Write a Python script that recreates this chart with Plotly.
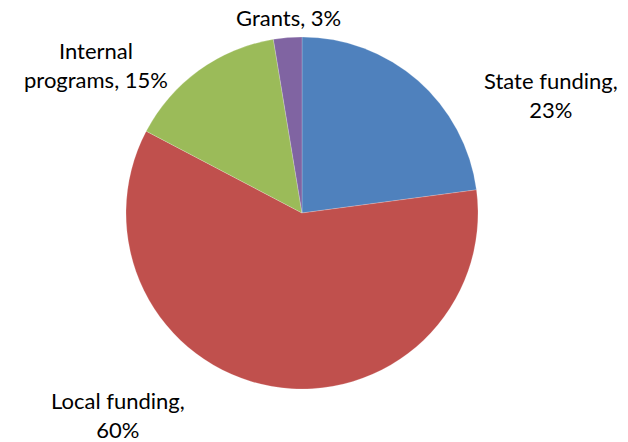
import plotly.graph_objects as go

categories = ["State funding", "Local funding", "Internal programs", "Grants"]
values = [22.9, 59.8, 14.7, 2.6]
label_text = ["State funding,<br>23%", "Local funding,<br>60%", "Internal<br>programs, 15%", "Grants, 3%"]
colors = ["#4F81BD", "#C0504D", "#9BBB59", "#8064A2"]

W, H = 628, 442
cx, cy, r = 302, 213, 176

fig = go.Figure(go.Pie(
    labels=categories, values=values, sort=False, direction="clockwise", rotation=0,
    marker=dict(colors=colors, line=dict(color="rgba(255,255,255,0.4)", width=0.5)),
    textinfo="none", hoverinfo="label+percent", showlegend=False,
    domain=dict(x=[(cx - r) / W, (cx + r) / W], y=[(H - cy - r) / H, (H - cy + r) / H]),
))

# label anchor positions (pixels)
label_pos = [(551, 95), (118, 415), (96, 65), (288, 18)]
for txt, (x, y) in zip(label_text, label_pos):
    fig.add_annotation(x=x / W, y=1 - y / H, xref="paper", yref="paper", text=txt,
                       showarrow=False, align="center", xanchor="center", yanchor="middle",
                       font=dict(family="Lato", size=22, color="#000000"))

fig.update_layout(width=W, height=H, margin=dict(l=0, r=0, t=0, b=0),
                  paper_bgcolor="white", plot_bgcolor="white")
fig.write_html("out.html", config={"displayModeBar": False},
               post_script="document.body.style.margin='0px';document.body.style.overflow='hidden';")
